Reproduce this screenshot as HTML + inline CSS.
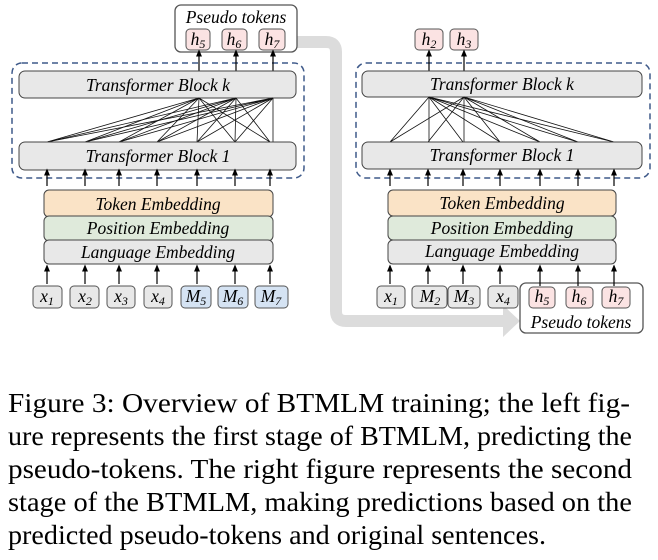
<!DOCTYPE html>
<html><head><style>body{margin:0;background:#fff}svg{display:block}</style></head><body>
<svg width="658" height="560" viewBox="0 0 658 560" xmlns="http://www.w3.org/2000/svg" font-family="Liberation Serif, serif">
<defs>
<marker id="a" markerWidth="6" markerHeight="6" refX="3" refY="3" orient="auto"><path d="M0,0.5 L6,3 L0,5.5 Z" fill="#000"/></marker>
</defs>
<path d="M297,42 H326 Q336,42 336,52 V311 Q336,321 346,321 H505" fill="none" stroke="#dcdcdc" stroke-width="12"/>
<path d="M503,305 L520,321 L503,337 Z" fill="#dcdcdc"/>

<g font-style="italic" font-size="17.5" text-anchor="middle">
<!-- LEFT -->
<rect x="12" y="63" width="292" height="115" rx="10" fill="none" stroke="#3f5a8a" stroke-width="1.5" stroke-dasharray="6,4"/>
<rect x="175" y="5" width="122" height="47" rx="6" fill="#fff" stroke="#555" stroke-width="1.3"/>
<text x="236" y="23">Pseudo tokens</text>
<g stroke="#555" fill="#fbe3e3">
<rect x="186" y="29" width="24" height="21" rx="4"/><rect x="222" y="29" width="25" height="21" rx="4"/><rect x="259" y="29" width="26" height="21" rx="4"/>
</g>
<text x="198" y="45">h<tspan font-size="12" dy="3">5</tspan></text>
<text x="234" y="45">h<tspan font-size="12" dy="3">6</tspan></text>
<text x="272" y="45">h<tspan font-size="12" dy="3">7</tspan></text>
<g stroke="#000" stroke-width="1.2" marker-end="url(#a)">
<line x1="199" y1="71" x2="199" y2="53"/><line x1="236" y1="71" x2="236" y2="53"/><line x1="273" y1="71" x2="273" y2="53"/>
</g>
<rect x="19" y="71" width="277" height="27" rx="6" fill="#e8e8e8" stroke="#444"/>
<text x="158" y="91">Transformer Block k</text>
<g stroke="#111" stroke-width="0.8">
<path d="M199,98 L47,142 M199,98 L85,142 M199,98 L119,142 M199,98 L157,142 M199,98 L197,142 M199,98 L235,142 M199,98 L270,142"/>
<path d="M236,98 L47,142 M236,98 L85,142 M236,98 L119,142 M236,98 L157,142 M236,98 L197,142 M236,98 L235,142 M236,98 L270,142"/>
<path d="M273,98 L47,142 M273,98 L85,142 M273,98 L119,142 M273,98 L157,142 M273,98 L197,142 M273,98 L235,142 M273,98 L273,142"/>
</g>
<rect x="19" y="142" width="277" height="28" rx="6" fill="#e8e8e8" stroke="#444"/>
<text x="158" y="162">Transformer Block 1</text>
<g stroke="#000" stroke-width="1.2" marker-end="url(#a)">
<line x1="47" y1="186" x2="47" y2="172"/><line x1="85" y1="186" x2="85" y2="172"/><line x1="119" y1="186" x2="119" y2="172"/><line x1="157" y1="186" x2="157" y2="172"/><line x1="197" y1="186" x2="197" y2="172"/><line x1="235" y1="186" x2="235" y2="172"/><line x1="270" y1="186" x2="270" y2="172"/>
</g>
<rect x="44" y="190" width="229" height="27" rx="5" fill="#fae3c6" stroke="#444"/>
<rect x="44" y="216" width="229" height="25" rx="5" fill="#dfeadb" stroke="#444"/>
<rect x="44" y="240" width="229" height="24" rx="5" fill="#e8e8e8" stroke="#444"/>
<text x="158" y="210">Token Embedding</text>
<text x="158" y="234">Position Embedding</text>
<text x="158" y="258">Language Embedding</text>
<g stroke="#000" stroke-width="1.2" marker-end="url(#a)">
<line x1="47" y1="284" x2="47" y2="268"/><line x1="85" y1="284" x2="85" y2="268"/><line x1="119" y1="284" x2="119" y2="268"/><line x1="157" y1="284" x2="157" y2="268"/><line x1="197" y1="284" x2="197" y2="268"/><line x1="235" y1="284" x2="235" y2="268"/><line x1="270" y1="284" x2="270" y2="268"/>
</g>
<g stroke="#555">
<rect x="33" y="286" width="29" height="22" rx="4" fill="#e8e8e8"/><rect x="70" y="286" width="29" height="22" rx="4" fill="#e8e8e8"/><rect x="107" y="286" width="28" height="22" rx="4" fill="#e8e8e8"/><rect x="144" y="286" width="28" height="22" rx="4" fill="#e8e8e8"/>
<rect x="181" y="286" width="30" height="22" rx="4" fill="#d5e3f3"/><rect x="218" y="286" width="30" height="22" rx="4" fill="#d5e3f3"/><rect x="255" y="286" width="33" height="22" rx="4" fill="#d5e3f3"/>
</g>
<text x="47" y="302">x<tspan font-size="12" dy="3">1</tspan></text>
<text x="85" y="302">x<tspan font-size="12" dy="3">2</tspan></text>
<text x="121" y="302">x<tspan font-size="12" dy="3">3</tspan></text>
<text x="158" y="302">x<tspan font-size="12" dy="3">4</tspan></text>
<text x="196" y="302">M<tspan font-size="12" dy="3">5</tspan></text>
<text x="233" y="302">M<tspan font-size="12" dy="3">6</tspan></text>
<text x="271" y="302">M<tspan font-size="12" dy="3">7</tspan></text>

<!-- RIGHT -->
<rect x="356" y="63" width="294" height="115" rx="10" fill="none" stroke="#3f5a8a" stroke-width="1.5" stroke-dasharray="6,4"/>
<g stroke="#555" fill="#fbe3e3">
<rect x="415" y="29" width="28" height="21" rx="4"/><rect x="450" y="29" width="28" height="21" rx="4"/>
</g>
<text x="429" y="45">h<tspan font-size="12" dy="3">2</tspan></text>
<text x="464" y="45">h<tspan font-size="12" dy="3">3</tspan></text>
<g stroke="#000" stroke-width="1.2" marker-end="url(#a)">
<line x1="429" y1="71" x2="429" y2="53"/><line x1="464" y1="71" x2="464" y2="53"/>
</g>
<rect x="362" y="71" width="280" height="26" rx="6" fill="#e8e8e8" stroke="#444"/>
<text x="502" y="90">Transformer Block k</text>
<g stroke="#111" stroke-width="0.8">
<path d="M429,97 L390,142 M429,97 L429,142 M429,97 L463,142 M429,97 L500,142 M429,97 L540,142 M429,97 L578,142 M429,97 L614,142"/>
<path d="M464,97 L390,142 M464,97 L428,142 M464,97 L464,142 M464,97 L500,142 M464,97 L540,142 M464,97 L578,142 M464,97 L614,142"/>
</g>
<rect x="362" y="142" width="280" height="27" rx="6" fill="#e8e8e8" stroke="#444"/>
<text x="502" y="161">Transformer Block 1</text>
<g stroke="#000" stroke-width="1.2" marker-end="url(#a)">
<line x1="390" y1="186" x2="390" y2="172"/><line x1="428" y1="186" x2="428" y2="172"/><line x1="463" y1="186" x2="463" y2="172"/><line x1="500" y1="186" x2="500" y2="172"/><line x1="540" y1="186" x2="540" y2="172"/><line x1="578" y1="186" x2="578" y2="172"/><line x1="614" y1="186" x2="614" y2="172"/>
</g>
<rect x="388" y="190" width="228" height="26" rx="5" fill="#fae3c6" stroke="#444"/>
<rect x="388" y="216" width="228" height="24" rx="5" fill="#dfeadb" stroke="#444"/>
<rect x="388" y="240" width="228" height="24" rx="5" fill="#e8e8e8" stroke="#444"/>
<text x="502" y="209">Token Embedding</text>
<text x="502" y="234">Position Embedding</text>
<text x="502" y="257">Language Embedding</text>
<rect x="520" y="283" width="123" height="50" rx="6" fill="#fff" stroke="#555" stroke-width="1.3"/>
<text x="581" y="328">Pseudo tokens</text>
<g stroke="#000" stroke-width="1.2" marker-end="url(#a)">
<line x1="390" y1="284" x2="390" y2="268"/><line x1="428" y1="284" x2="428" y2="268"/><line x1="463" y1="284" x2="463" y2="268"/><line x1="500" y1="284" x2="500" y2="268"/><line x1="540" y1="286" x2="540" y2="268"/><line x1="578" y1="286" x2="578" y2="268"/><line x1="614" y1="286" x2="614" y2="268"/>
</g>
<g stroke="#555">
<rect x="377" y="286" width="28" height="22" rx="4" fill="#e8e8e8"/><rect x="412" y="286" width="35" height="22" rx="4" fill="#e8e8e8"/><rect x="448" y="286" width="32" height="22" rx="4" fill="#e8e8e8"/><rect x="488" y="286" width="30" height="22" rx="4" fill="#e8e8e8"/>
<rect x="529" y="287" width="26" height="21" rx="4" fill="#fbe3e3"/><rect x="566" y="287" width="27" height="21" rx="4" fill="#fbe3e3"/><rect x="602" y="287" width="28" height="21" rx="4" fill="#fbe3e3"/>
</g>
<text x="391" y="302">x<tspan font-size="12" dy="3">1</tspan></text>
<text x="430" y="302">M<tspan font-size="12" dy="3">2</tspan></text>
<text x="464" y="302">M<tspan font-size="12" dy="3">3</tspan></text>
<text x="503" y="302">x<tspan font-size="12" dy="3">4</tspan></text>
<text x="542" y="302">h<tspan font-size="12" dy="3">5</tspan></text>
<text x="579" y="302">h<tspan font-size="12" dy="3">6</tspan></text>
<text x="616" y="302">h<tspan font-size="12" dy="3">7</tspan></text>
</g>

<g font-size="27.5" fill="#000">
<text x="8" y="412" textLength="622" lengthAdjust="spacingAndGlyphs">Figure 3:  Overview of BTMLM training; the left fig-</text>
<text x="8" y="445" textLength="624" lengthAdjust="spacingAndGlyphs">ure represents the first stage of BTMLM, predicting the</text>
<text x="8" y="478" textLength="624" lengthAdjust="spacingAndGlyphs">pseudo-tokens.  The right figure represents the second</text>
<text x="8" y="511" textLength="624" lengthAdjust="spacingAndGlyphs">stage of the BTMLM, making predictions based on the</text>
<text x="8" y="544" textLength="538" lengthAdjust="spacingAndGlyphs">predicted pseudo-tokens and original sentences.</text>
</g>
</svg>
</body></html>
